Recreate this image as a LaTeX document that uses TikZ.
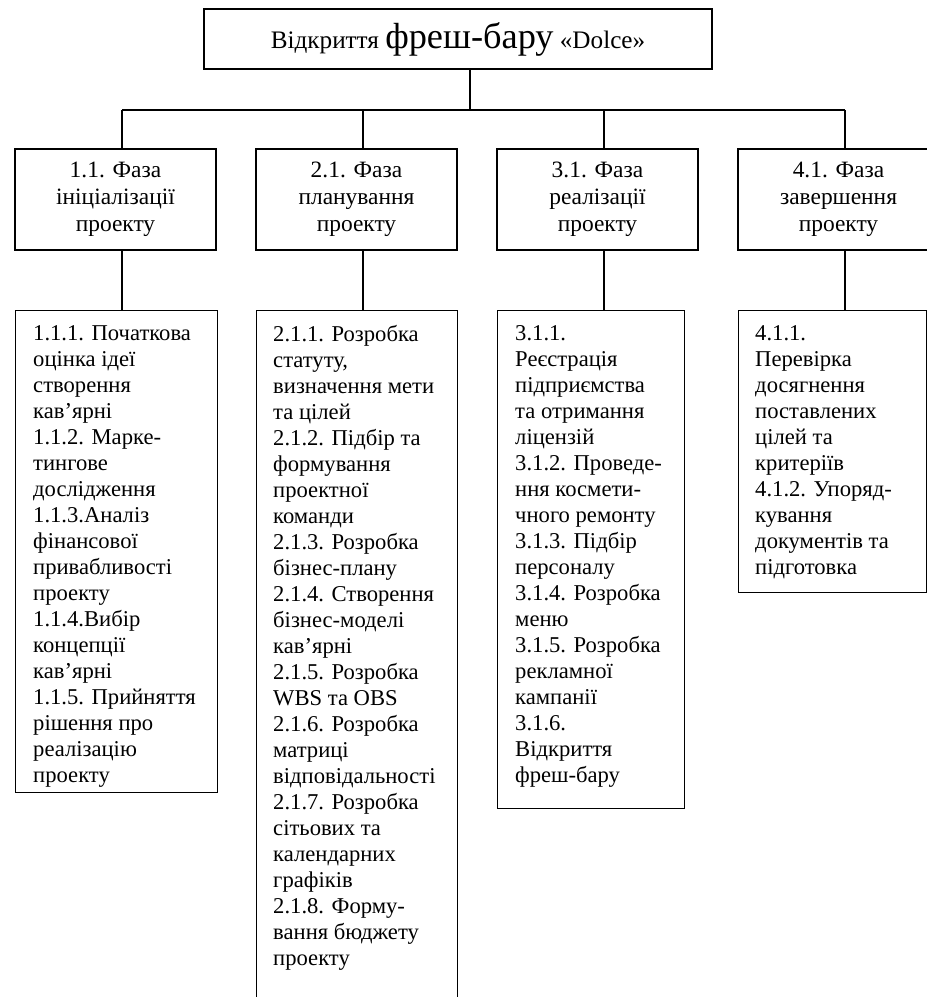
\documentclass[tikz,border=0pt]{standalone}
\usepackage{fontspec}
\setmainfont{Liberation Serif}
\usetikzlibrary{positioning, calc}

\begin{document}
\begin{tikzpicture}[
        box/.style={draw, line width=1.2pt, minimum width=#1, inner sep=0pt,
            align=center},
        box/.default=6.03cm,
        phase/.style={box, minimum height=3.03cm,
            font=\fontsize{20}{23.2}\selectfont},
        detail/.style={draw, line width=1.2pt, anchor=north west,
            minimum width=#1, inner sep=0pt},
        dtext/.style={inner sep=0pt, align=left,
            font=\fontsize{19.3}{22.2}\selectfont},
        link/.style={line width=1.2pt},
    ]
    \useasboundingbox (0,0) rectangle (27.81,-29.91);

    % =============================================
    % ВЕРХНІЙ РІВЕНЬ
    % =============================================
    \node[box=15.24cm, minimum height=1.8cm, font=\fontsize{21.5}{25}\selectfont]
        (title) at (13.74,-1.17)
        {Відкриття {\fontsize{31}{35}\selectfont фреш-бару} «Dolce»};

    \coordinate (hub) at (14.1,-3.3);
    \coordinate (c1)  at (3.66,-3.3);
    \coordinate (c2)  at (10.89,-3.3);
    \coordinate (c3)  at (18.12,-3.3);
    \coordinate (c4)  at (25.35,-3.3);

    \draw[link] (title.south -| hub) -- (hub);
    \draw[link] (c1) -- (c4);

    % =============================================
    % ФАЗИ ПРОЕКТУ
    % =============================================
    \node[phase] (ph1) at (3.465,-5.985)  {1.1. Фаза\\ініціалізації\\проекту};
    \node[phase] (ph2) at (10.695,-5.985) {2.1. Фаза\\планування\\проекту};
    \node[phase] (ph3) at (17.925,-5.985) {3.1. Фаза\\реалізації\\проекту};
    \node[phase] (ph4) at (25.155,-5.985) {4.1. Фаза\\завершення\\проекту};

    \draw[link] (c1) -- (c1 |- ph1.north);
    \draw[link] (c2) -- (c2 |- ph2.north);
    \draw[link] (c3) -- (c3 |- ph3.north);
    \draw[link] (c4) -- (c4 |- ph4.north);

    % =============================================
    % РОБОТИ
    % =============================================
    \node[detail=6.06cm, minimum height=14.46cm] (det1) at (0.45,-9.3)  {};
    \node[detail=6.03cm, minimum height=21.2cm]  (det2) at (7.68,-9.3)  {};
    \node[detail=5.61cm, minimum height=14.94cm] (det3) at (14.91,-9.3) {};
    \node[detail=5.64cm, minimum height=8.46cm]  (det4) at (22.14,-9.3) {};

    \draw[link] (ph1.south -| c1) -- (c1 |- det1.north);
    \draw[link] (ph2.south -| c2) -- (c2 |- det2.north);
    \draw[link] (ph3.south -| c3) -- (c3 |- det3.north);
    \draw[link] (ph4.south -| c4) -- (c4 |- det4.north);

    \node[dtext, below right=0.45cm and 0.54cm of det1.north west] (t1)
        {1.1.1. Початкова\\оцінка ідеї\\створення\\кав’ярні\\
         1.1.2. Марке-\\тингове\\дослідження\\1.1.3.Аналіз\\
         фінансової\\привабливості\\проекту\\1.1.4.Вибір\\
         концепції\\кав’ярні\\1.1.5. Прийняття\\рішення про\\
         реалізацію\\проекту};
    \node[dtext, below right=0.45cm and 0.51cm of det2.north west] (t2)
        {2.1.1. Розробка\\статуту,\\визначення мети\\та цілей\\
         2.1.2. Підбір та\\формування\\проектної\\команди\\
         2.1.3. Розробка\\бізнес-плану\\2.1.4. Створення\\
         бізнес-моделі\\кав’ярні\\2.1.5. Розробка\\WBS та OBS\\
         2.1.6. Розробка\\матриці\\відповідальності\\
         2.1.7. Розробка\\сітьових та\\календарних\\графіків\\
         2.1.8. Форму-\\вання бюджету\\проекту};
    \node[dtext, below right=0.45cm and 0.54cm of det3.north west] (t3)
        {3.1.1.\\Реєстрація\\підприємства\\та отримання\\ліцензій\\
         3.1.2. Проведе-\\ння космети-\\чного ремонту\\
         3.1.3. Підбір\\персоналу\\3.1.4. Розробка\\меню\\
         3.1.5. Розробка\\рекламної\\кампанії\\3.1.6.\\
         Відкриття\\фреш-бару};
    \node[dtext, below right=0.45cm and 0.51cm of det4.north west] (t4)
        {4.1.1.\\Перевірка\\досягнення\\поставлених\\цілей та\\
         критеріїв\\4.1.2. Упоряд-\\кування\\документів та\\
         підготовка};

\end{tikzpicture}
\end{document}
